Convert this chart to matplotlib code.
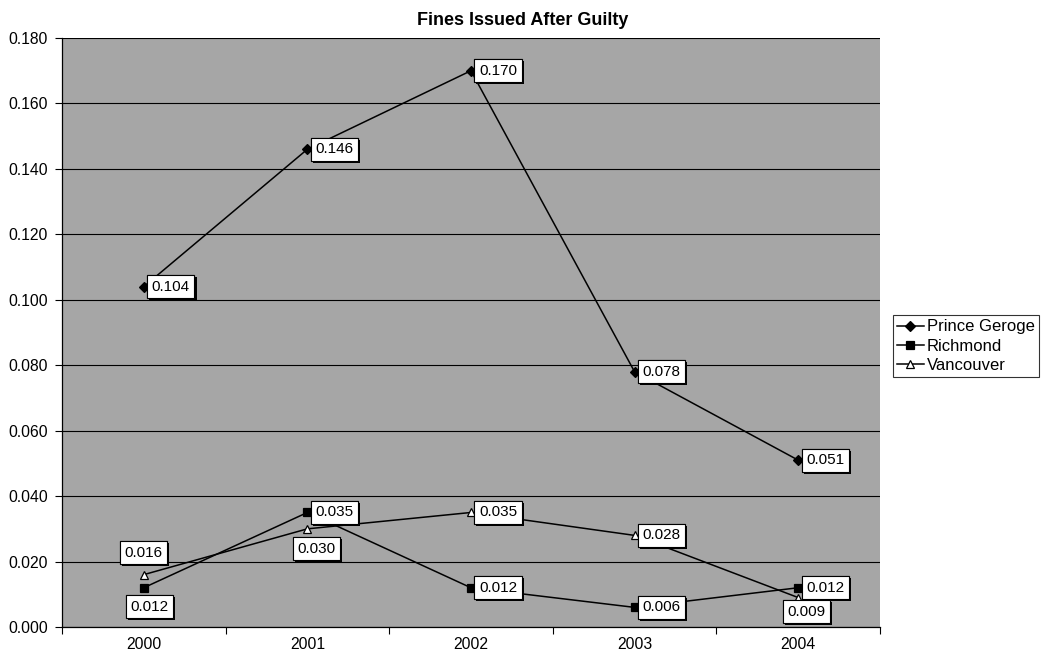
import matplotlib as mpl
from matplotlib import pyplot as plt
from matplotlib import patheffects

mpl.rcParams["font.family"] = ["Liberation Sans", "DejaVu Sans"]

years = ["2000", "2001", "2002", "2003", "2004"]
prince_george = [0.104, 0.146, 0.170, 0.078, 0.051]
richmond = [0.012, 0.035, 0.012, 0.006, 0.012]
vancouver = [0.016, 0.030, 0.035, 0.028, 0.009]

# label offsets in pixels (dx, dy) relative to each point
right = (8, 0)
pg_offsets = [right] * 5
rich_offsets = [(6, -19), right, right, right, right]
van_offsets = [(0, 22), (9, -20), right, right, (8, -14)]

series = [
    ("Prince Geroge", prince_george, "D", "black", pg_offsets),
    ("Richmond", richmond, "s", "black", rich_offsets),
    ("Vancouver", vancouver, "^", "white", van_offsets),
]

fig = plt.figure(figsize=(10.43, 6.53), dpi=100)
ax = fig.add_axes([0.0594, 0.0398, 0.7843, 0.902])
ax.set_facecolor("#a6a6a6")

x = list(range(len(years)))
for name, vals, marker, face, offsets in series:
    ax.plot(x, vals, color="black", lw=1.1, marker=marker, ms=5.5,
            mfc=face, mec="black", mew=0.9, label=name, zorder=3)
    for xi, v, (dx, dy) in zip(x, vals, offsets):
        ha = "left" if (dx, dy) == right else "center"
        t = ax.annotate(f"{v:.3f}", (xi, v), xytext=(dx * 0.72, dy * 0.72),
                        textcoords="offset points", ha=ha, va="center",
                        fontsize=11, zorder=5,
                        bbox=dict(boxstyle="square,pad=0.3", fc="white", ec="black", lw=0.8))
        t.get_bbox_patch().set_path_effects(
            [patheffects.withSimplePatchShadow(offset=(1.5, -1.5), shadow_rgbFace="black", alpha=1),
             patheffects.Normal()])

ax.set_xlim(-0.5, len(years) - 0.5)
ax.set_ylim(0, 0.18)
ax.set_yticks([i * 0.02 for i in range(10)])
ax.set_yticklabels([f"{i * 0.02:.3f}" for i in range(10)], fontsize=11.3)
ax.yaxis.grid(True, color="black", lw=0.8)
ax.set_axisbelow(True)

ax.set_xticks([i - 0.5 for i in range(len(years) + 1)])
ax.set_xticklabels([])
ax.set_xticks(x, minor=True)
ax.set_xticklabels(years, minor=True, fontsize=11.3)
ax.tick_params(axis="x", which="minor", length=0, pad=7)
ax.tick_params(axis="both", which="major", length=5, width=0.8, color="black")
ax.tick_params(axis="y", pad=5)

for side in ["top", "right"]:
    ax.spines[side].set_visible(False)
for side in ["left", "bottom"]:
    ax.spines[side].set_color("black")
    ax.spines[side].set_linewidth(0.9)

fig.text(0.501, 0.969, "Fines Issued After Guilty", ha="center", va="center",
         fontsize=13, fontweight="bold")

leg = ax.legend(loc="center left", bbox_to_anchor=(0.856, 0.47), bbox_transform=fig.transFigure,
                frameon=True, fancybox=False, edgecolor="black", fontsize=12,
                handlelength=1.6, handletextpad=0.2, borderpad=0.25, labelspacing=0.25,
                borderaxespad=0)
leg.get_frame().set_linewidth(0.8)

fig.savefig("out.png", dpi=100)
